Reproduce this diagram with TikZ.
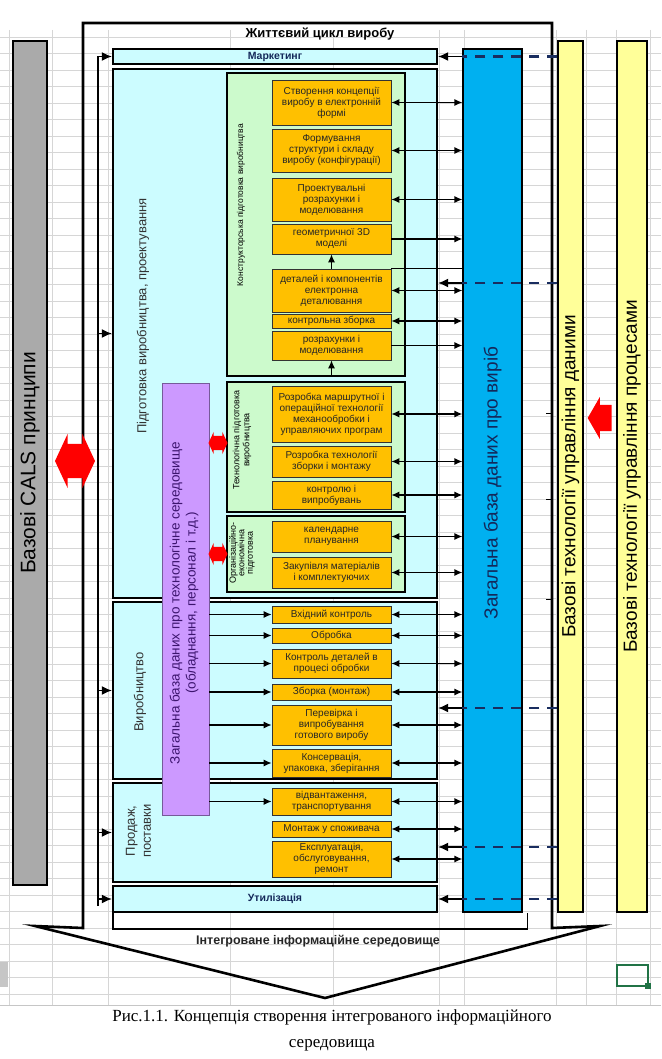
\documentclass[tikz,border=0pt]{standalone}
\usepackage{fontspec}
\setmainfont{Liberation Sans}
\newfontfamily\capfont{Liberation Serif}
\usetikzlibrary{arrows.meta,shapes.arrows}
\definecolor{PaleCyan}{RGB}{204,252,255}
\definecolor{PaleGreen}{RGB}{204,250,204}
\definecolor{TaskOrange}{RGB}{255,192,0}
\definecolor{DbBlue}{RGB}{0,176,240}
\definecolor{DbText}{RGB}{20,40,90}
\definecolor{BarYellow}{RGB}{255,255,153}
\definecolor{BarGrey}{RGB}{170,170,170}
\definecolor{EnvPurple}{RGB}{204,153,255}
\definecolor{EnvText}{RGB}{60,20,110}
\definecolor{GridGrey}{RGB}{214,214,214}
\definecolor{DashNavy}{RGB}{25,45,95}
\definecolor{SheetGreen}{RGB}{33,115,70}
\tikzset{
  phase/.style={draw=black,line width=2.2pt,fill=PaleCyan,minimum width=324pt,
    inner sep=0pt},
  stage/.style={draw=black,line width=1.7pt,fill=PaleGreen,minimum width=178pt,
    inner sep=0pt},
  task/.style={draw=black!80,line width=0.7pt,fill=TaskOrange,minimum width=119pt,
    inner sep=1pt,align=center,text=black!85,font=\fontsize{10}{11}\selectfont},
  bar/.style={draw=black,line width=1.2pt,inner sep=0pt},
  vlabel/.style={rotate=90,align=center,inner sep=0pt},
  redarr/.style={double arrow,fill=red,draw=none,inner xsep=1pt,double arrow tip angle=130},
  link/.style={-{Latex[length=8pt,width=7pt]},line width=1.2pt},
  duplex/.style={{Latex[length=8pt,width=7pt]}-{Latex[length=8pt,width=7pt]},line width=1.2pt},
  feed/.style={-{Latex[length=10pt,width=9pt]},line width=1.6pt},
  dbdash/.style={DashNavy,line width=2.2pt,dash pattern=on 10pt off 8pt}
}

\begin{document}
\begin{tikzpicture}[x=1pt,y=-1pt]
  \useasboundingbox (0,0) rectangle (661,1059);
  % sheet grid
  \foreach \yy in {37,53.5,...,1004} \draw[GridGrey,line width=0.5pt] (0,\yy) -- (661,\yy);
  \foreach \xx in {9,52,108,230,333,439,464,556,586,616,650}
    \draw[GridGrey,line width=0.5pt] (\xx,30) -- (\xx,1005);
  \draw[gray!45,line width=0.8pt] (0,1005) -- (661,1005);
  \fill[gray!45] (0,962) rectangle (8,987);
  \draw[SheetGreen,line width=1.3pt] (617,965) rectangle (648,986);
  \fill[SheetGreen] (645,983) rectangle (651,989);

  % base bars
  \node[bar,fill=BarGrey,minimum width=34pt,minimum height=844pt] (cals) at (30,463) {};
  \node[vlabel,font=\fontsize{21}{24}\selectfont] (calsT) at (cals.center) {Базові CALS принципи};
  \node[bar,fill=BarYellow,minimum width=25pt,minimum height=871pt] (pdm) at (570.5,476.5) {};
  \node[vlabel,font=\fontsize{19}{22}\selectfont] (pdmT) at (pdm.center) {Базові технології управління даними};
  \node[bar,fill=BarYellow,minimum width=30pt,minimum height=871pt] (bpm) at (632,476.5) {};
  \node[vlabel,font=\fontsize{19}{22}\selectfont] (bpmT) at (bpm.center) {Базові технології управління процесами};

  % life cycle frame
  \draw[line width=2.6pt] (83,928) -- (83,23) -- (552,23) -- (552,928) -- (600,926)
    -- (325,998) -- (35,926) -- cycle;
  \foreach \yy in {413,499,599} \draw[line width=1pt] (546,\yy) -- (552,\yy);
  \node[font=\bfseries\fontsize{13}{15}\selectfont] (life) at (320,34) {Життєвий цикл виробу};

  \node[bar,fill=DbBlue,minimum width=59pt,minimum height=863pt] (db) at (492.5,480.5) {};
  \node[vlabel,font=\fontsize{19}{22}\selectfont,text=DbText] (dbT) at (492.5,483) {Загальна база даних про виріб};

  % phases
  \node[phase,minimum height=15pt,font=\bfseries\fontsize{10.5}{12}\selectfont,text=DbText] (mkt) at (275,56.5) {Маркетинг};
  \node[phase,minimum height=529pt] (prep) at (275,333.5) {};
  \node[vlabel,font=\fontsize{13}{15}\selectfont,text=black!80] (prepT) at (143,316) {Підготовка виробництва, проектування};
  \node[phase,minimum height=177pt] (prod) at (275,690.5) {};
  \node[vlabel,font=\fontsize{13}{15}\selectfont,text=black!80] (prodT) at (140,692) {Виробництво};
  \node[phase,minimum height=99pt] (sale) at (275,832.5) {};
  \node[vlabel,font=\fontsize{13}{16}\selectfont,text=black!80] (saleT) at (138.5,831) {Продаж,\\поставки};
  \node[phase,minimum height=26pt,font=\bfseries\fontsize{10.5}{12}\selectfont,text=DbText] (util) at (275,899) {Утилізація};

  % preparation stages
  \node[stage,minimum height=303pt] (kp) at (316,224.5) {};
  \node[vlabel,font=\fontsize{8.5}{10}\selectfont] (kpT) at (241,205) {Конструкторська підготовка виробництва};
  \node[stage,minimum height=130pt] (tp) at (316,447) {};
  \node[vlabel,font=\fontsize{9}{10}\selectfont] (tpT) at (242,440) {Технологічна підготовка\\виробництва};
  \node[stage,minimum height=76pt] (op) at (316,554) {};
  \node[vlabel,font=\fontsize{9}{8.5}\selectfont] (opT) at (242,553) {Організаційно-\\економічна\\підготовка};

  \node[draw=EnvText!70,line width=0.8pt,fill=EnvPurple,minimum width=47pt,
    minimum height=432pt,inner sep=0pt] (env) at (185.5,599) {};
  \node[vlabel,font=\fontsize{13.5}{16}\selectfont,text=EnvText] (envT) at (184,603)
    {Загальна база даних про технологічне середовище\\(обладнання, персонал і т.д.)};

  % tasks
  \node[task,minimum height=45pt] (t1) at (331.5,102.5) {Створення концепції\\виробу в електронній\\формі};
  \node[task,minimum height=43pt] (t2) at (331.5,150.5) {Формування\\структури і складу\\виробу (конфігурації)};
  \node[task,minimum height=43pt] (t3) at (331.5,199.5) {Проектувальні\\розрахунки і\\моделювання};
  \node[task,minimum height=30pt] (t4) at (331.5,239) {геометричної 3D\\моделі};
  \node[task,minimum height=43pt] (t5) at (331.5,290.5) {деталей і компонентів\\електронна\\деталювання};
  \node[task,minimum height=14pt] (t6) at (331.5,321) {контрольна зборка};
  \node[task,minimum height=29pt] (t7) at (331.5,345.5) {розрахунки і\\моделювання};
  \node[task,minimum height=56pt] (t8) at (331.5,414) {Розробка маршрутної і\\операційної технології\\механообробки і\\управляючих програм};
  \node[task,minimum height=31pt] (t9) at (331.5,461.5) {Розробка технології\\зборки і монтажу};
  \node[task,minimum height=28pt] (t10) at (331.5,495) {контролю і\\випробувань};
  \node[task,minimum height=31pt] (t11) at (331.5,536.5) {календарне\\планування};
  \node[task,minimum height=31pt] (t12) at (331.5,572.5) {Закупівля матеріалів\\і комплектуючих};
  \node[task,minimum height=17pt] (t13) at (331.5,614.5) {Вхідний контроль};
  \node[task,minimum height=15pt] (t14) at (331.5,635.5) {Обробка};
  \node[task,minimum height=29pt] (t15) at (331.5,663.5) {Контроль деталей в\\процесі обробки};
  \node[task,minimum height=16pt] (t16) at (331.5,692) {Зборка (монтаж)};
  \node[task,minimum height=40pt] (t17) at (331.5,725) {Перевірка і\\випробування\\готового виробу};
  \node[task,minimum height=28pt] (t18) at (331.5,763) {Консервація,\\упаковка, зберігання};
  \node[task,minimum height=27pt] (t19) at (331.5,801.5) {відвантаження,\\транспортування};
  \node[task,minimum height=16pt] (t20) at (331.5,829) {Монтаж у споживача};
  \node[task,minimum height=36pt] (t21) at (331.5,859) {Експлуатація,\\обслуговування,\\ремонт};

  % block arrows
  \node[redarr,inner ysep=17pt,minimum height=40pt,double arrow head extend=10pt] (calsLink) at (75,461) {};
  \node[redarr,inner ysep=7pt,minimum height=19pt,double arrow head extend=4pt] (tpLink) at (218,443) {};
  \node[redarr,inner ysep=7pt,minimum height=19pt,double arrow head extend=4pt] (opLink) at (218,554) {};
  \node[single arrow,fill=red,draw=none,inner xsep=1pt,inner ysep=13pt,shape border rotate=180,
    single arrow tip angle=120,minimum height=24pt,single arrow head extend=8pt] (dataLink) at (603.5,418) {};

  % connectors
  \draw[link] (t5.north) -- (t4.south);
  \draw[link] (t7.south |- kp.south) -- (t7.south);
  \draw[line width=1.2pt] (t5.north east) -- (t5.north east -| db.west);
  \foreach \t in {t1,t2,t3,t5,t6,t8,t9,t10,t11,t12,t13,t14,t15,t16,t17,t18,t19,t20,t21}
    \draw[duplex] (\t.east) -- (\t.east -| db.west);
  \foreach \t in {t4,t7}
    \draw[link] (\t.east) -- (\t.east -| db.west);
  \foreach \t in {t13,t14,t15,t16,t17,t18,t19}
    \draw[link] (env.east |- \t.west) -- (\t.west);

  \coordinate (railT) at (98,56.5);
  \coordinate (railB) at (98,906);
  \draw[line width=2pt] (railB) -- (railT);
  \foreach \ph in {mkt,prep,prod,sale,util}
    \draw[feed] (railT |- \ph.west) -- (\ph.west);

  \foreach \yy/\ph in {56.5/mkt,283/prep,708/prod,847/sale,899/util}{
    \coordinate (lvl) at (0,\yy);
    \draw[dbdash] (pdm.west |- lvl) -- (db.west |- lvl);
    \draw[feed] (db.west |- lvl) -- (\ph.east |- lvl);
  }

  \draw[line width=1.6pt] ([xshift=1pt]util.south west) -- ++(0,16) -| ([xshift=5pt]db.south east);
  \node[font=\bfseries\fontsize{12.5}{14}\selectfont,text=black!85] (ienv) at (318,941) {Інтегроване інформаційне середовище};

  \node[font=\capfont\fontsize{17}{26}\selectfont,align=center] (cap) at (332,1030)
    {Рис.1.1. Концепція створення інтегрованого інформаційного\\середовища};
\end{tikzpicture}
\end{document}
